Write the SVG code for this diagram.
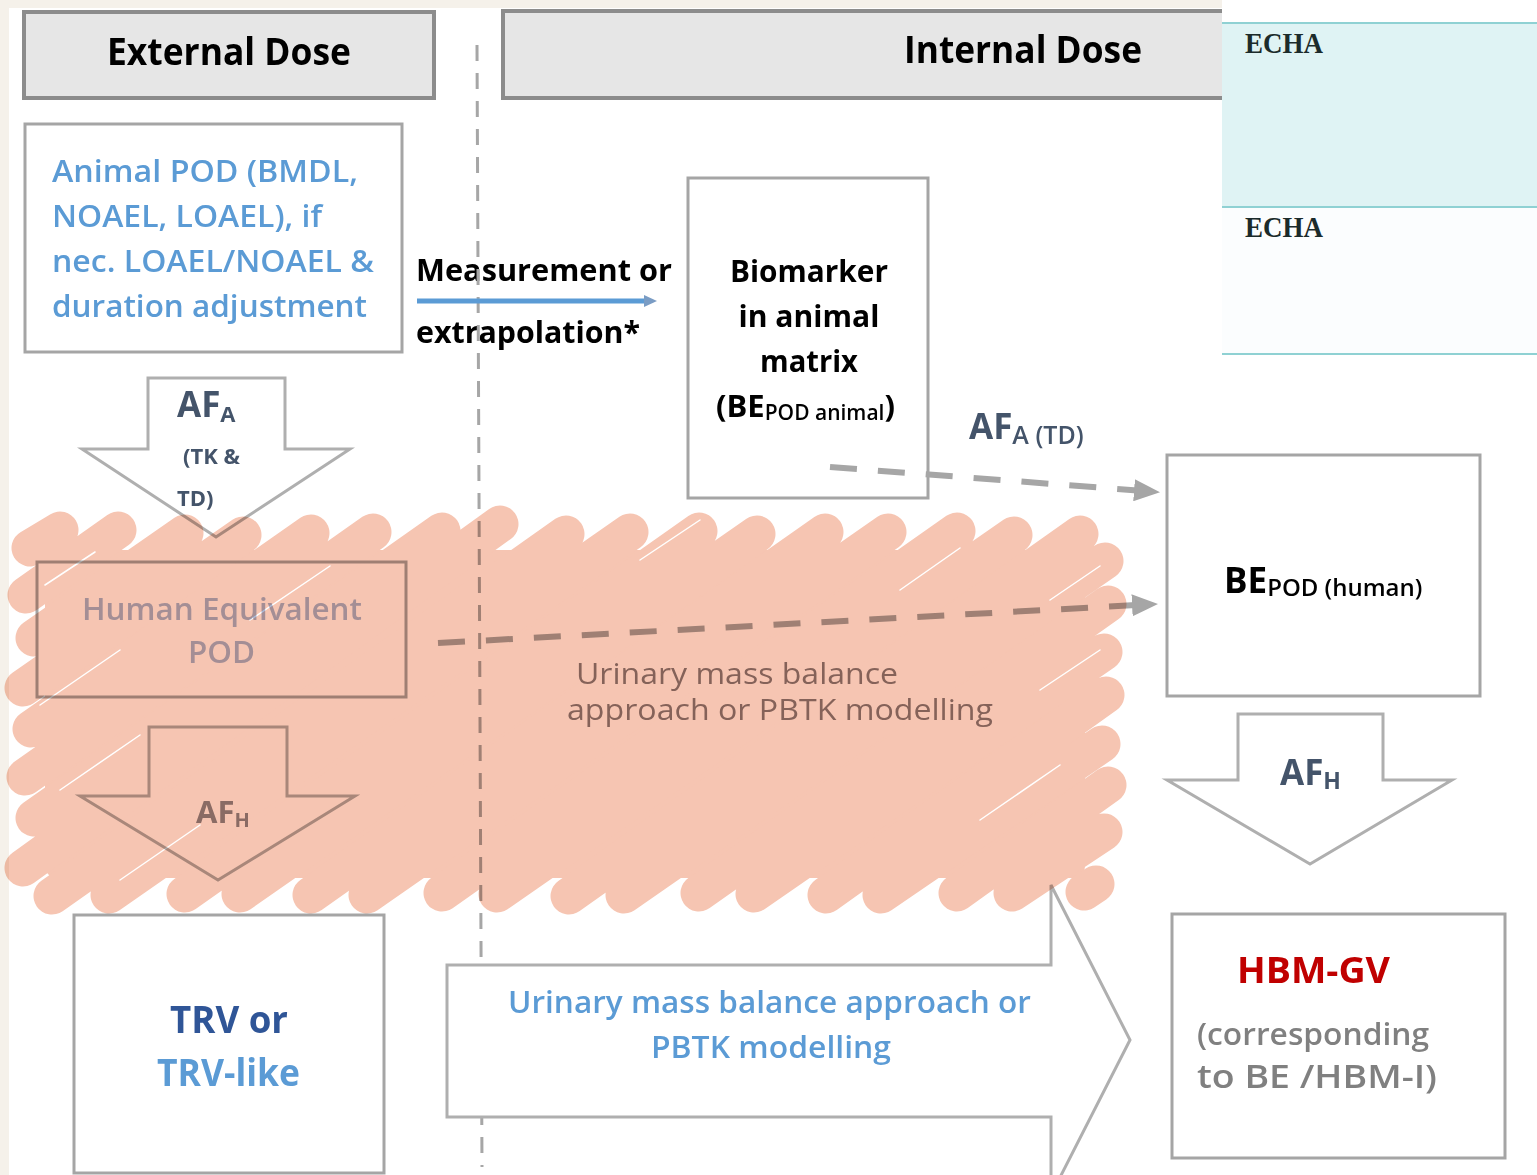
<svg xmlns="http://www.w3.org/2000/svg" width="1537" height="1175" viewBox="0 0 1537 1175">
<defs>
<style>
text{font-family:"Open Sans","Noto Sans",sans-serif}
.box{fill:#fff;stroke:#a5a5a5;stroke-width:3}
.hdr{fill:#e6e6e6;stroke:#8c8c8c;stroke-width:4}
.hdrt{font-size:37px;font-weight:700;fill:#000}
.blue{fill:#5b9bd5;font-weight:600}
.blk{fill:#000;font-weight:700}
.slate{fill:#44546a;font-weight:700}
.barrow{fill:#fff;stroke:#afafaf;stroke-width:3;stroke-linejoin:miter}
.dash{fill:none;stroke:#a6a6a6;stroke-width:6;stroke-dasharray:27 21}
.echa{font-family:"Liberation Serif","DejaVu Serif",serif;font-weight:700;font-size:29px;fill:#1b2b2b}
</style>
<marker id="gh" markerUnits="userSpaceOnUse" markerWidth="26" markerHeight="22" refX="24" refY="11" orient="auto">
<path d="M0 0 L26 11 L0 22 Z" fill="#a6a6a6"/>
</marker>
</defs>
<rect width="1537" height="1175" fill="#fff"/>
<rect x="0" y="0" width="1222" height="8" fill="#f5f1ea"/>
<rect x="0" y="0" width="9" height="1175" fill="#f5f1ea"/>

<g id="external-dose-header">
<rect class="hdr" x="24" y="12" width="410" height="86"/>
<text class="hdrt" x="107" y="65" textLength="244" lengthAdjust="spacingAndGlyphs">External Dose</text>
</g>
<g id="internal-dose-header">
<rect class="hdr" x="503" y="11" width="760" height="87"/>
<text class="hdrt" x="904" y="63" textLength="238" lengthAdjust="spacingAndGlyphs">Internal Dose</text>
</g>

<g id="animal-pod">
<rect class="box" x="25" y="124" width="377" height="228"/>
<text class="blue" font-size="31" x="52" y="182" textLength="306" lengthAdjust="spacingAndGlyphs">Animal POD (BMDL,</text>
<text class="blue" font-size="31" x="52" y="227" textLength="270" lengthAdjust="spacingAndGlyphs">NOAEL, LOAEL), if</text>
<text class="blue" font-size="31" x="52" y="272" textLength="322" lengthAdjust="spacingAndGlyphs">nec. LOAEL/NOAEL &amp;</text>
<text class="blue" font-size="31" x="52" y="317" textLength="315" lengthAdjust="spacingAndGlyphs">duration adjustment</text>
</g>

<g id="measurement-label">
<text class="blk" font-size="30" x="416" y="281" textLength="256" lengthAdjust="spacingAndGlyphs">Measurement or</text>
<text class="blk" font-size="30" x="416" y="343" textLength="224" lengthAdjust="spacingAndGlyphs">extrapolation*</text>
</g>

<line id="divider" x1="477" y1="45" x2="482" y2="1167" stroke="#a6a6a6" stroke-width="3" stroke-dasharray="16 12"/>

<g id="biomarker">
<rect class="box" x="688" y="178" width="240" height="320"/>
<text class="blk" font-size="30" x="809" y="282" text-anchor="middle" textLength="158" lengthAdjust="spacingAndGlyphs">Biomarker</text>
<text class="blk" font-size="30" x="809" y="327" text-anchor="middle" textLength="141" lengthAdjust="spacingAndGlyphs">in animal</text>
<text class="blk" font-size="30" x="809" y="372" text-anchor="middle" textLength="98" lengthAdjust="spacingAndGlyphs">matrix</text>
<text class="blk" font-size="31" x="716" y="417">(BE<tspan font-size="21" font-weight="600" dy="3">POD animal</tspan><tspan dy="-3">)</tspan></text>
</g>

<g id="afa-td-label">
<text class="slate" font-size="35" x="969" y="439">AF<tspan font-size="25" font-weight="600" dy="5">A (TD)</tspan></text>
</g>

<g id="be-pod-human">
<rect class="box" x="1167" y="455" width="313" height="241"/>
<text class="blk" font-size="35" x="1224" y="593">BE<tspan font-size="24" font-weight="600" dy="3">POD (human)</tspan></text>
</g>

<g id="afh-right">
<path class="barrow" d="M1238 714 H1383 V780 H1452 L1310 864 L1167 780 H1238 Z"/>
<text class="slate" font-size="35" x="1280" y="785">AF<tspan font-size="23" dy="4">H</tspan></text>
</g>

<g id="afa-left">
<path class="barrow" d="M148 378 H285 V449 H350 L216 537 L82 449 H148 Z"/>
<text class="slate" font-size="35" x="177" y="417">AF<tspan font-size="22" dy="5">A</tspan></text>
<text class="slate" font-size="22" x="183" y="464">(TK &amp;</text>
<text class="slate" font-size="22" x="177" y="506">TD)</text>
</g>

<g id="human-equivalent-pod">
<rect class="box" x="37" y="562" width="369" height="135" fill="none"/>
<text font-size="31" font-weight="600" fill="#aab8d6" x="82" y="620" textLength="280" lengthAdjust="spacingAndGlyphs">Human Equivalent</text>
<text font-size="31" font-weight="600" fill="#aab8d6" x="188" y="663" textLength="67" lengthAdjust="spacingAndGlyphs">POD</text>
</g>

<g id="afh-left">
<path class="barrow" stroke="#9a9a9a" d="M149 727 H287 V796 H355 L218 880 L80 796 H149 Z"/>
<text font-weight="700" fill="#8f8a8f" font-size="31" x="196" y="823">AF<tspan font-size="20" dy="4">H</tspan></text>
</g>

<g id="urinary-note">
<text font-size="29" fill="#8a7f7f" x="576" y="684" textLength="322" lengthAdjust="spacingAndGlyphs">Urinary mass balance</text>
<text font-size="29" fill="#8a7f7f" x="567" y="720" textLength="426" lengthAdjust="spacingAndGlyphs">approach or PBTK modelling</text>
</g>

<g id="connectors">
<line x1="417" y1="301" x2="647" y2="301" stroke="#5b9bd5" stroke-width="5"/>
<path d="M644 295 L657 301 L644 307 Z" fill="#7a9cc4"/>
<line class="dash" x1="830" y1="467" x2="1158" y2="492" marker-end="url(#gh)"/>
<line class="dash" x1="438" y1="643" x2="1156" y2="604" marker-end="url(#gh)"/>
</g>

<g id="trv">
<rect class="box" x="74" y="915" width="310" height="258"/>
<text font-weight="700" font-size="38" fill="#2f5597" x="170" y="1033" textLength="118" lengthAdjust="spacingAndGlyphs">TRV or</text>
<text font-weight="700" font-size="38" fill="#5b9bd5" x="157" y="1086" textLength="143" lengthAdjust="spacingAndGlyphs">TRV-like</text>
</g>

<g id="urinary-arrow">
<path class="barrow" d="M447 965 H1051 V885 L1130 1040 L1051 1195 V1117 H447 Z"/>
<text class="blue" font-size="31" x="508" y="1013" textLength="523" lengthAdjust="spacingAndGlyphs">Urinary mass balance approach or</text>
<text class="blue" font-size="31" x="651" y="1058" textLength="240" lengthAdjust="spacingAndGlyphs">PBTK modelling</text>
</g>

<g id="hbm-gv">
<rect class="box" x="1172" y="914" width="333" height="244"/>
<text font-weight="700" font-size="36" fill="#c00000" x="1237" y="983" textLength="153" lengthAdjust="spacingAndGlyphs">HBM-GV</text>
<text font-weight="600" font-size="30" fill="#808080" x="1197" y="1045" textLength="232" lengthAdjust="spacingAndGlyphs">(corresponding</text>
<text font-weight="600" font-size="33" fill="#808080" x="1197" y="1088" textLength="240" lengthAdjust="spacingAndGlyphs">to BE /HBM-I)</text>
</g>

<g id="scribble" style="mix-blend-mode:multiply">
<rect x="45" y="550" width="1040" height="328" rx="12" fill="#f6c5b2"/>
<path fill="none" stroke="#f6c5b2" stroke-width="37" stroke-linecap="round" d="M30 548 L60 530 M26 595 L118 530 M34 638 L185 533 M23 688 L243 535 M31 729 L311 533 M25 777 L373 532 M34 818 L442 531 M23 868 L500 524 M52 896 L566 534 M109 895 L630 532 M185 894 L699 531 M240 894 L757 534 M311 895 L825 532 M367 895 L888 532 M442 893 L957 531 M497 894 L1014 535 M569 896 L1080 534 M624 895 L1105 561 M699 893 L1108 604 M754 894 L1104 652 M826 895 L1106 695 M881 895 L1102 744 M957 893 L1108 785 M1012 893 L1104 832 M1084 892 L1096 884"/>
<path fill="none" stroke="#fff" stroke-width="1.5" stroke-linecap="round" d="M45 585 L95 552 M40 705 L120 650 M60 790 L140 735 M250 620 L330 566 M640 560 L700 520 M900 590 L960 548 M1050 600 L1100 566 M1040 690 L1100 650 M980 820 L1060 765 M120 880 L200 825"/>
</g>

<g id="echa-panel">
<rect x="1222" y="0" width="315" height="356" fill="#fff"/>
<rect x="1222" y="23" width="315" height="184" fill="#dff3f4"/>
<rect x="1222" y="207" width="315" height="147" fill="#fbfdfe"/>
<line x1="1222" y1="23" x2="1537" y2="23" stroke="#8fd1d3" stroke-width="2"/>
<line x1="1222" y1="207" x2="1537" y2="207" stroke="#8fd1d3" stroke-width="2"/>
<line x1="1222" y1="354" x2="1537" y2="354" stroke="#8fd1d3" stroke-width="2"/>
<text class="echa" x="1245" y="53" textLength="78" lengthAdjust="spacingAndGlyphs">ECHA</text>
<text class="echa" x="1245" y="237" textLength="78" lengthAdjust="spacingAndGlyphs">ECHA</text>
</g>
</svg>
